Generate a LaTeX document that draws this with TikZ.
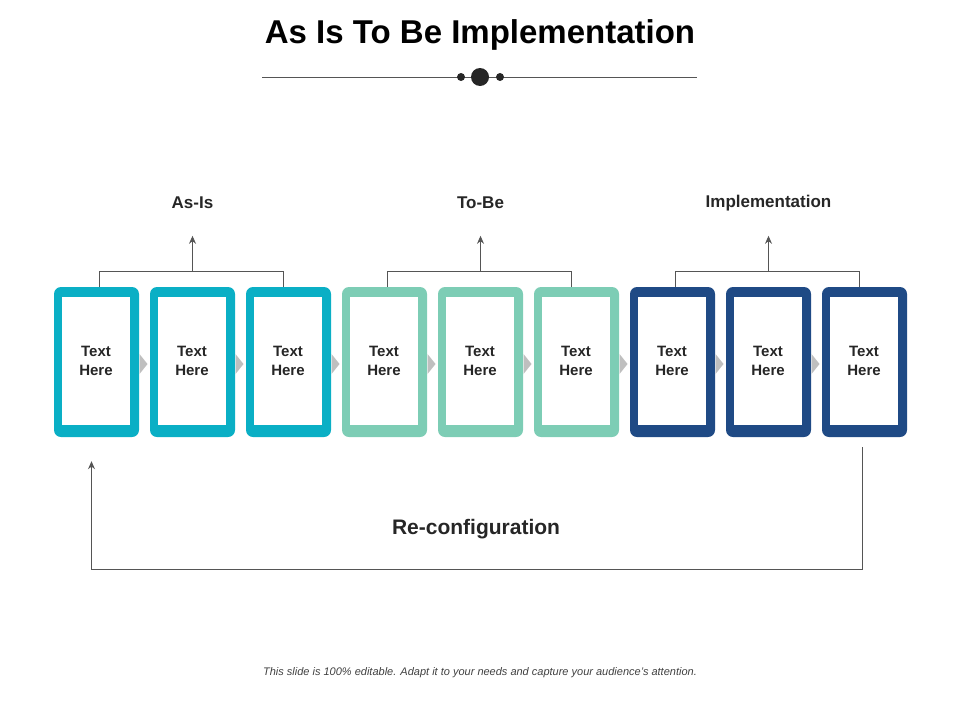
\documentclass[tikz,border=0pt]{standalone}
\usepackage{fontspec}
\setmainfont{Liberation Sans}
\usetikzlibrary{arrows.meta,calc}
\definecolor{asis}{HTML}{0AAFC5}
\definecolor{tobe}{HTML}{7DCDB5}
\definecolor{impl}{HTML}{1F4A85}
\definecolor{linegray}{HTML}{555555}
\tikzset{
  outerbox/.style={fill=#1, rounded corners=7pt, minimum width=85pt, minimum height=150pt, inner sep=0pt},
  innerbox/.style={fill=white, minimum width=68pt, minimum height=128pt, inner sep=0pt, font=\bfseries\fontsize{15}{19}\selectfont, align=center, text=black!85},
  link/.style={draw=linegray, line width=0.9pt},
  arr/.style={link, -{Stealth[length=8pt,width=7pt]}},
  grouplabel/.style={font=\bfseries\fontsize{17}{20}\selectfont, text=black!85}
}
\begin{document}
\begin{tikzpicture}[x=1pt,y=-1pt]
  \useasboundingbox (0,0) rectangle (960,720);
  % title
  \node (title) at (480,35) {\bfseries\fontsize{33}{38}\selectfont As Is To Be Implementation};
  \draw[link] (262,77) -- (697,77);
  \fill[black!85] (461,77) circle (4) (480,77) circle (9) (500,77) circle (4);
  % boxes
  \foreach \i/\col in {1/asis,2/asis,3/asis,4/tobe,5/tobe,6/tobe,7/impl,8/impl,9/impl} {
    \node[outerbox=\col] (b\i) at ({96.5+96*(\i-1)},362) {};
    \node[innerbox] (t\i) at ({96+96*(\i-1)},361) {Text\\Here};
  }
  % small arrows between boxes
  \foreach \i in {1,...,8}
    \fill[black!25] ({139.5+96*(\i-1)},354) -- ++(8,10) -- ++(-8,10) -- cycle;
  % group brackets
  \foreach \a/\b/\c/\txt in {1/2/3/As-Is,4/5/6/To-Be,7/8/9/Implementation} {
    \coordinate (top\b) at ($(b\b.north)+(0,-51)$);
    \draw[link] ([xshift=2.5pt]b\a.north) -- ++(0,-15) -| ([xshift=-5.5pt]b\c.north);
    \draw[arr] ([yshift=15pt]b\b.north) -- (top\b);
    \node[grouplabel] (g\b) at ($(top\b)+(0,-33)$) {\txt};
  }
  % re-configuration loop
  \coordinate (loopend) at ([xshift=-5pt,yshift=-24pt]b1.south);
  \draw[arr] ([xshift=-2pt,yshift=-10pt]b9.south) -- ++(0,122) -| (loopend);
  \node[font=\bfseries\fontsize{21}{25}\selectfont, text=black!85] (reconf) at (476,529) {Re-configuration};
  % footer
  \node[font=\itshape\fontsize{11}{13}\selectfont, text=black!75] (foot) at (480,673) {This slide is 100\% editable. Adapt it to your needs and capture your audience's attention.};
\end{tikzpicture}
\end{document}
